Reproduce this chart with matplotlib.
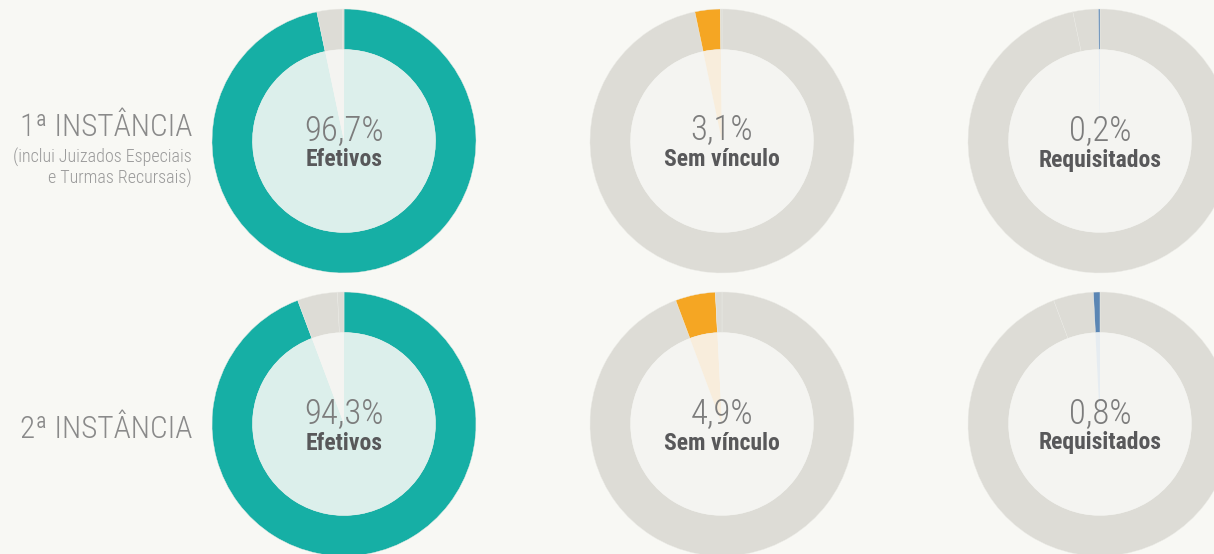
import matplotlib.pyplot as plt

# Distribuição da força de trabalho por vínculo, em %
categorias = ["Efetivos", "Sem vínculo", "Requisitados"]
instancias = ["1ª INSTÂNCIA", "2ª INSTÂNCIA"]
notas = ["(inclui Juizados Especiais\ne Turmas Recursais)", ""]
valores_1a = [96.7, 3.1, 0.2]
valores_2a = [94.3, 4.9, 0.8]

COR_FORTE = ["#16afa5", "#f5a623", "#5b86b4"]
COR_CLARA = ["#dcefeb", "#f8eddc", "#e6ecf1"]
COR_ANEL = "#dddcd6"
COR_MIOLO = "#f4f4f1"
FUNDO = "#f8f8f4"

W, H = 1214, 554
CX = [344, 722, 1100]
CY = [H - 141, H - 424]
R_EXT = 132
R_INT = 91.5

FONTE = ["Roboto Condensed", "DejaVu Sans"]


def desenha_rosca(ax, valores, destaque, cx, cy):
    cores_anel = [COR_FORTE[i] if i == destaque else COR_ANEL for i in range(len(valores))]
    cores_miolo = [COR_CLARA[i] if i == destaque else COR_MIOLO for i in range(len(valores))]
    ax.pie(valores, colors=cores_anel, startangle=90, counterclock=False,
           center=(cx, cy), radius=R_EXT, frame=True,
           wedgeprops={"width": R_EXT - R_INT, "linewidth": 0.3, "edgecolor": "#ebebe6"})
    ax.pie(valores, colors=cores_miolo, startangle=90, counterclock=False,
           center=(cx, cy), radius=R_INT, frame=True,
           wedgeprops={"linewidth": 0})
    pct = f"{valores[destaque]:.1f}%".replace(".", ",")
    ax.text(cx, cy + 11, pct, ha="center", va="center", fontsize=25,
            color="#7c7c7c", family=FONTE, fontweight="light")
    ax.text(cx, cy - 19, categorias[destaque], ha="center", va="center",
            fontsize=17, color="#58585a", family=FONTE, fontweight="bold")


fig = plt.figure(figsize=(W / 100, H / 100), dpi=100, facecolor=FUNDO)
ax = fig.add_axes([0, 0, 1, 1])
ax.set_facecolor(FUNDO)

for linha, valores in enumerate([valores_1a, valores_2a]):
    for col in range(len(categorias)):
        desenha_rosca(ax, valores, col, CX[col], CY[linha])

# rótulos das instâncias
ax.text(192, H - 128, instancias[0], ha="right", va="center", fontsize=22.5,
        color="#8a8a8a", family=FONTE, fontweight="light")
ax.text(192, H - 148, notas[0], ha="right", va="top", fontsize=13,
        color="#9a9a9a", family=FONTE, fontweight="light", linespacing=1.15)
ax.text(192, H - 430, instancias[1], ha="right", va="center", fontsize=22.5,
        color="#8a8a8a", family=FONTE, fontweight="light")

ax.set_xlim(0, W)
ax.set_ylim(0, H)
ax.set_aspect("equal")
ax.axis("off")

fig.savefig("out.png", dpi=100, facecolor=FUNDO)
